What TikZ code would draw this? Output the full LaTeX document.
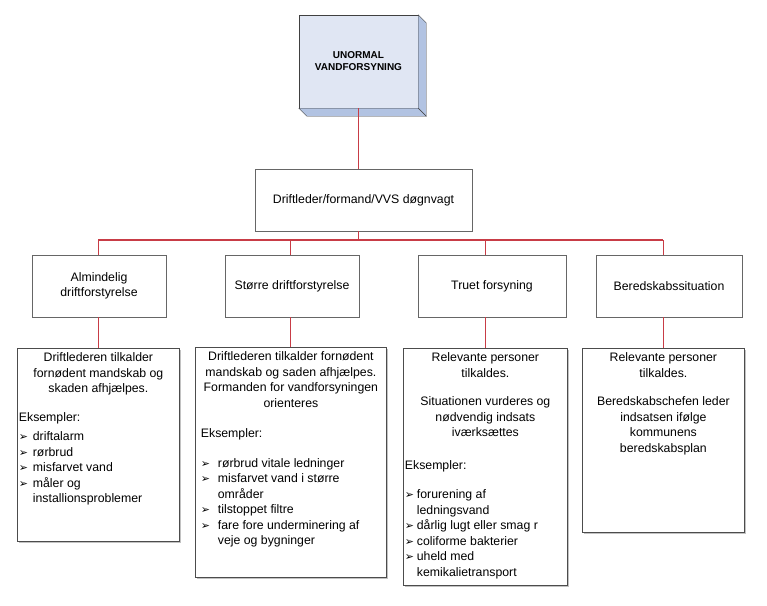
\documentclass[tikz,border=0pt]{standalone}
\usepackage{fontspec}
\setmainfont{Liberation Sans}
\newfontfamily\pilfont{DejaVu Sans}
\usepackage{tikz}
\usetikzlibrary{positioning, shadows}
\usepackage{xcolor}
\definecolor{linjerod}{RGB}{200, 60, 70}
\definecolor{topfront}{RGB}{224, 230, 243}
\definecolor{topside}{RGB}{178, 195, 226}

\newlength{\punktind}
\newcommand{\punkt}[1]{\par\hangindent=\punktind\hangafter=1\noindent\makebox[\punktind][l]{\pilfont\fontsize{11}{11}\selectfont ➢}#1}

\begin{document}
\begin{tikzpicture}[x=1pt, y=-1pt, font=\fontsize{12.3}{15.5}\selectfont,
        kasse/.style={draw=black!60, fill=white, line width=0.8pt, align=center, minimum height=62pt, inner sep=2pt,
            drop shadow={shadow xshift=1.3pt, shadow yshift=-1.3pt, fill=black!40, opacity=0.6}},
        lavkasse/.style={draw=black!70, fill=white, line width=0.8pt, anchor=north west, inner xsep=1.5pt, inner ysep=4.5pt,
            drop shadow={shadow xshift=1.3pt, shadow yshift=-1.3pt, fill=black!40, opacity=0.6}},
        forbind/.style={draw=linjerod, line width=1.1pt}]
        \useasboundingbox (0,0) rectangle (767,605);

        % top
        \node[draw=black!75, fill=topfront, minimum width=119pt, minimum height=93pt, align=center, font=\bfseries\fontsize{10}{12}\selectfont] (unormal) at (358.5,61.5) {UNORMAL\\VANDFORSYNING};
        \filldraw[fill=topside, draw=black!75] (unormal.north east) -- ++(8,8) -- ([shift={(8,8)}]unormal.south east) -- (unormal.south east) -- cycle;
        \filldraw[fill=topside, draw=black!75] (unormal.south west) -- (unormal.south east) -- ++(8,8) -- ([shift={(8,8)}]unormal.south west) -- cycle;

        \node[kasse, minimum width=217pt] (drift) at (363.5,200) {Driftleder/formand/VVS døgnvagt};

        % mellemste niveau
        \node[kasse, minimum width=134pt] (mid1) at (99,286) {Almindelig\\driftforstyrelse};
        \node[kasse, minimum width=134pt] (mid2) at (292,286) {Større driftforstyrelse};
        \node[kasse, minimum width=148pt] (mid3) at (492,286) {Truet forsyning};
        \node[kasse, minimum width=146pt] (mid4) at (669,286) {Beredskabssituation};

        % nederste niveau
        \node[lavkasse] (lav1) at (17,348) {\parbox[t][184pt][t]{159pt}{\centering Driftlederen tilkalder\\fornødent mandskab og\\skaden afhjælpes.\par
            \vspace{13pt}\raggedright Eksempler:\par\vspace{4pt}\setlength{\punktind}{14pt}%
            \punkt{driftalarm}\punkt{rørbrud}\punkt{misfarvet vand}\punkt{måler og\newline installionsproblemer}}};
        \node[lavkasse] (lav2) at (195,347) {\parbox[t][221pt][t]{188pt}{\centering Driftlederen tilkalder fornødent\\mandskab og saden afhjælpes.\\Formanden for vandforsyningen\\orienteres\par
            \vspace{15pt}\raggedright\leftskip=4pt Eksempler:\par\vspace{14pt}\setlength{\punktind}{17pt}%
            \punkt{rørbrud vitale ledninger}\punkt{misfarvet vand i større\newline områder}\punkt{tilstoppet filtre}\punkt{fare fore underminering af\newline veje og bygninger}}};
        \node[lavkasse] (lav3) at (403,348) {\parbox[t][228pt][t]{161pt}{\centering Relevante personer\\tilkaldes.\par
            \vspace{13pt}Situationen vurderes og\\nødvendig indsats\\iværksættes\par
            \vspace{17pt}\raggedright Eksempler:\par\vspace{14pt}\setlength{\punktind}{12pt}%
            \punkt{forurening af\newline ledningsvand}\punkt{dårlig lugt eller smag r}\punkt{coliforme bakterier}\punkt{uheld med\newline kemikalietransport}}};
        \node[lavkasse] (lav4) at (582,348) {\parbox[t][175pt][t]{159pt}{\centering Relevante personer\\tilkaldes.\par
            \vspace{13pt}Beredskabschefen leder\\indsatsen ifølge\\kommunens\\beredskabsplan}};

        % forbindelser
        \coordinate (skinne) at (0,240);
        \draw[forbind] (unormal.south) -- (unormal.south |- drift.north);
        \draw[forbind] (unormal.south |- drift.south) -- (unormal.south |- skinne);
        \draw[forbind] (lav1.north |- skinne) -- (lav4.north |- skinne);
        \foreach \i in {1,...,4} {
            \draw[forbind] (lav\i.north |- skinne) -- (lav\i.north |- mid\i.north);
            \draw[forbind] (lav\i.north |- mid\i.south) -- (lav\i.north);
        }
    \end{tikzpicture}
\end{document}
